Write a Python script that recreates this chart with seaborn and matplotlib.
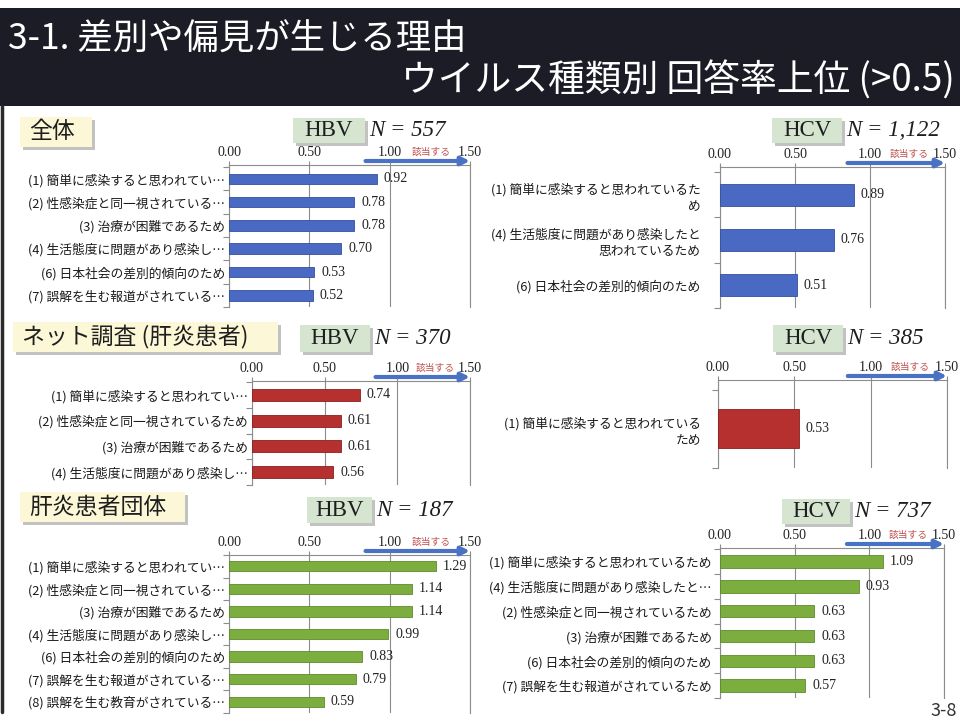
import numpy as np
import pandas as pd
import matplotlib
matplotlib.use('Agg')
from matplotlib import pyplot as plt
from matplotlib import transforms
import matplotlib.patches as mpatches
import matplotlib.patheffects as pe
import seaborn as sns

# ---- data ----
all_hbv_labels = ['(1) 簡単に感染すると思われてい…', '(2) 性感染症と同一視されている…',
                  '(3) 治療が困難であるため', '(4) 生活態度に問題があり感染し…',
                  '(6) 日本社会の差別的傾向のため', '(7) 誤解を生む報道がされている…']
all_hbv_values = [0.92, 0.78, 0.78, 0.70, 0.53, 0.52]

all_hcv_labels = ['(1) 簡単に感染すると思われているた\nめ',
                  '(4) 生活態度に問題があり感染したと\n思われているため',
                  '(6) 日本社会の差別的傾向のため']
all_hcv_values = [0.89, 0.76, 0.51]

net_hbv_labels = ['(1) 簡単に感染すると思われてい…', '(2) 性感染症と同一視されているため',
                  '(3) 治療が困難であるため', '(4) 生活態度に問題があり感染し…']
net_hbv_values = [0.74, 0.61, 0.61, 0.56]

net_hcv_labels = ['(1) 簡単に感染すると思われている\nため']
net_hcv_values = [0.53]

grp_hbv_labels = ['(1) 簡単に感染すると思われてい…', '(2) 性感染症と同一視されている…',
                  '(3) 治療が困難であるため', '(4) 生活態度に問題があり感染し…',
                  '(6) 日本社会の差別的傾向のため', '(7) 誤解を生む報道がされている…',
                  '(8) 誤解を生む教育がされている…']
grp_hbv_values = [1.29, 1.14, 1.14, 0.99, 0.83, 0.79, 0.59]

grp_hcv_labels = ['(1) 簡単に感染すると思われているため', '(4) 生活態度に問題があり感染したと…',
                  '(2) 性感染症と同一視されているため', '(3) 治療が困難であるため',
                  '(6) 日本社会の差別的傾向のため', '(7) 誤解を生む報道がされているため']
grp_hcv_values = [1.09, 0.93, 0.63, 0.63, 0.63, 0.57]

sections = ['全体', 'ネット調査 (肝炎患者)', '肝炎患者団体']
hbv_n = ['557', '370', '187']
hcv_n = ['1,122', '385', '737']
x_ticks = [0.0, 0.5, 1.0, 1.5]

title_1 = '3-1. 差別や偏見が生じる理由'
title_2 = 'ウイルス種類別 回答率上位 (>0.5)'
page_no = '3-8'

BLUE, BLUE_E = '#4A69C2', '#33509E'
RED, RED_E = '#B5302F', '#8A1F1F'
GREEN, GREEN_E = '#7CAD3F', '#5E8A2C'
GRID = '#8c8c8c'

W, H = 960, 722


def fig_rect(x0, y0, x1, y1):
    return [x0 / W, 1 - y1 / H, (x1 - x0) / W, (y1 - y0) / H]


def PlotPanel(fig, labels, values, color, edge, box, ylim, bw, pad):
    ax = fig.add_axes(fig_rect(*box))
    sns.barplot(x=values, y=labels, orient='h', color=color, saturation=1,
                width=bw, edgecolor=edge, linewidth=0.6, ax=ax, zorder=3)
    ax.set_xlim(0, 1.5)
    ax.set_ylim(*ylim)
    ax.set_xlabel('')
    ax.set_ylabel('')
    ax.xaxis.tick_top()
    ax.set_xticks(x_ticks)
    ax.set_xticklabels(['%.2f' % t for t in x_ticks], family='Liberation Serif',
                       fontsize=10, color='#222222')
    ax.tick_params(axis='x', which='major', length=3, pad=1, color=GRID, width=0.8)
    ax.grid(axis='x', color=GRID, lw=0.8, zorder=0)
    ax.grid(axis='y', visible=False)
    for s in ['top', 'left', 'right']:
        ax.spines[s].set_visible(True)
        ax.spines[s].set_color(GRID)
        ax.spines[s].set_linewidth(0.8)
    ax.spines['bottom'].set_visible(False)
    ax.set_facecolor('none')
    ax.set_yticks(np.arange(len(values) + 1) - 0.5, minor=True)
    ax.tick_params(axis='y', which='major', length=0, pad=pad, labelsize=9.2,
                   labelcolor='#1a1a1a')
    ax.tick_params(axis='y', which='minor', length=4, color=GRID, width=0.8, left=True)
    for lab in ax.get_yticklabels():
        lab.set_multialignment('right')
        lab.set_linespacing(1.3)
    ax.bar_label(ax.containers[0], labels=['%.2f' % v for v in values], padding=5,
                 fontsize=10, family='Liberation Serif', color='#222222')
    # "該当する" arrow above the axis
    up = ax.get_xaxis_transform() + transforms.ScaledTranslation(0, 4 / 100, fig.dpi_scale_trans)
    ax.annotate('', xy=(1.5, 1), xytext=(0.85, 1), xycoords=up, textcoords=up,
                arrowprops=dict(arrowstyle='-|>', color='#4A72C4', lw=3,
                                mutation_scale=12, shrinkA=0, shrinkB=0),
                annotation_clip=False)
    up2 = ax.get_xaxis_transform() + transforms.ScaledTranslation(0, 13 / 100, fig.dpi_scale_trans)
    ax.text(1.26, 1, '該当する', transform=up2, ha='center', va='center',
            fontsize=7, color='#C0504D')
    return ax


def LabelBox(ax_bg, box, text, fc, size, family=None, left=None):
    x0, y0, x1, y1 = box
    r = mpatches.Rectangle((x0, y0), x1 - x0, y1 - y0, facecolor=fc, edgecolor='none')
    r.set_path_effects([pe.SimplePatchShadow(offset=(2, -2), shadow_rgbFace='#9a9a9a', alpha=0.6),
                        pe.Normal()])
    ax_bg.add_patch(r)
    kw = {} if family is None else {'family': family}
    if left is None:
        ax_bg.text((x0 + x1) / 2, (y0 + y1) / 2, text, ha='center', va='center',
                   fontsize=size, color='#1e1e1e', **kw)
    else:
        ax_bg.text(x0 + left, (y0 + y1) / 2, text, ha='left', va='center',
                   fontsize=size, color='#1e1e1e', **kw)


def MakePlot():
    sns.set_style('white')
    plt.rcParams['font.family'] = ['Noto Sans CJK JP', 'DejaVu Sans']
    fig = plt.figure(figsize=(9.6, 7.22), dpi=100)
    fig.patch.set_facecolor('white')

    ax_bg = fig.add_axes([0, 0, 1, 1], zorder=-5)
    ax_bg.set_xlim(0, W)
    ax_bg.set_ylim(H, 0)
    ax_bg.axis('off')

    # title bar
    ax_bg.add_patch(mpatches.Rectangle((0, 8), W, 98, facecolor='#1c1c27', edgecolor='none'))
    ax_bg.text(8, 40, title_1, ha='left', va='center', fontsize=25.5, color='white')
    ax_bg.text(955, 81, title_2, ha='right', va='center', fontsize=26.5, color='white')
    ax_bg.plot([2, 2], [106, 712], color='#2a2a2a', lw=2.5)
    ax_bg.text(957, 711, page_no, ha='right', va='center', fontsize=13, color='#333333')

    # section / virus boxes
    sec_boxes = [(20, 117, 92, 147), (13, 322, 278, 352), (20, 492, 185, 522)]
    hbv_boxes = [(293, 118, 365, 143), (300, 325, 370, 352), (307, 497, 372, 523)]
    hcv_boxes = [(772, 118, 842, 143), (773, 325, 843, 352), (782, 499, 850, 524)]
    for i in range(3):
        LabelBox(ax_bg, sec_boxes[i], sections[i], '#fcf7d6', 16.5, left=9)
        LabelBox(ax_bg, hbv_boxes[i], 'HBV', '#d5e5d0', 16.5, family='Liberation Serif')
        LabelBox(ax_bg, hcv_boxes[i], 'HCV', '#d5e5d0', 16.5, family='Liberation Serif')
        ax_bg.text(hbv_boxes[i][2] + 4, (hbv_boxes[i][1] + hbv_boxes[i][3]) / 2,
                   'N = ' + hbv_n[i], ha='left', va='center', fontsize=16.5,
                   style='italic', family='Liberation Serif', color='#1e1e1e')
        ax_bg.text(hcv_boxes[i][2] + 4, (hcv_boxes[i][1] + hcv_boxes[i][3]) / 2,
                   'N = ' + hcv_n[i], ha='left', va='center', fontsize=16.5,
                   style='italic', family='Liberation Serif', color='#1e1e1e')

    PlotPanel(fig, all_hbv_labels, all_hbv_values, BLUE, BLUE_E,
              (229, 165, 470, 307), (5.43, -0.59), 0.45, 3)
    PlotPanel(fig, all_hcv_labels, all_hcv_values, BLUE, BLUE_E,
              (720, 167, 945, 308), (2.51, -0.62), 0.49, 14)
    PlotPanel(fig, net_hbv_labels, net_hbv_values, RED, RED_E,
              (252, 381, 470, 485), (3.5, -0.54), 0.47, 3)
    PlotPanel(fig, net_hcv_labels, net_hcv_values, RED, RED_E,
              (718, 380, 947, 468), (0.475, -0.625), 0.5, 12)
    PlotPanel(fig, grp_hbv_labels, grp_hbv_values, GREEN, GREEN_E,
              (229, 555, 470, 713), (6.42, -0.3), 0.45, 3)
    PlotPanel(fig, grp_hcv_labels, grp_hcv_values, GREEN, GREEN_E,
              (720, 548, 944, 698), (5.31, -0.55), 0.5, 6)

    fig.savefig('out.png', dpi=100)


if __name__ == '__main__':
    MakePlot()
